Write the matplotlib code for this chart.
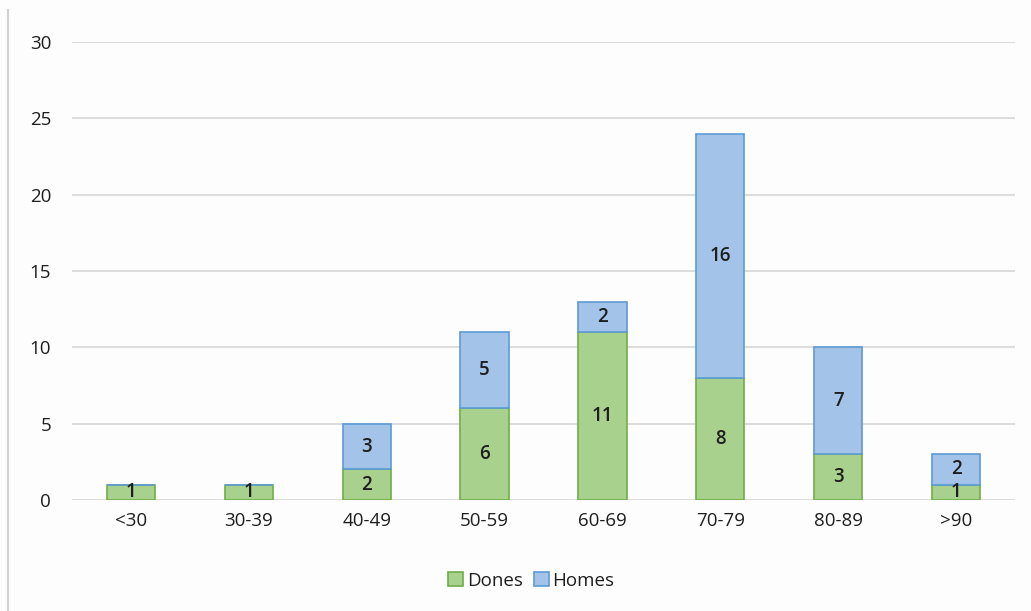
import matplotlib.pyplot as plt
import numpy as np

plt.rcParams['font.family'] = ['Open Sans', 'DejaVu Sans']

categories = ['<30', '30-39', '40-49', '50-59', '60-69', '70-79', '80-89', '>90']
dones = [1, 1, 2, 6, 11, 8, 3, 1]
homes = [0, 0, 3, 5, 2, 16, 7, 2]

green_fill, green_edge = '#a9d18e', '#70ad47'
blue_fill, blue_edge = '#a3c4e8', '#5b9bd5'
txt = '#1e1e1e'

fig = plt.figure(figsize=(10.31, 6.11), dpi=100, facecolor='#fdfdfd')
ax = fig.add_axes([0.0698, 0.1817, 0.9147, 0.7496])
ax.set_facecolor('#fdfdfd')

x = np.arange(len(categories))
w = 0.41
ax.bar(x, dones, w, color=green_fill, edgecolor=green_edge, linewidth=1.2,
       label='Dones', zorder=3)
ax.bar(x, homes, w, bottom=dones, color=blue_fill, edgecolor=blue_edge,
       linewidth=1.2, label='Homes', zorder=3)

for i in range(len(categories)):
    ax.text(x[i], dones[i] / 2, str(dones[i]), ha='center', va='center',
            fontsize=13.5, color=txt, fontweight='semibold', zorder=4)
    if homes[i] > 0:
        ax.text(x[i], dones[i] + homes[i] / 2, str(homes[i]), ha='center',
                va='center', fontsize=13.5, color=txt, fontweight='semibold',
                zorder=4)

ax.set_xlim(-0.5, len(categories) - 0.5)
ax.set_ylim(0, 30)
ax.set_yticks(range(0, 31, 5))
ax.set_xticks(x)
ax.set_xticklabels(categories)
ax.tick_params(axis='both', length=0, labelsize=13.5, colors=txt)
ax.tick_params(axis='y', pad=15)
ax.tick_params(axis='x', pad=9)
ax.grid(axis='y', color='#d9d9d9', linewidth=1.3, zorder=0)
for s in ax.spines.values():
    s.set_visible(False)

leg = ax.legend(loc='upper center', bbox_to_anchor=(0.487, -0.12), ncol=2,
                frameon=False, fontsize=13.5, handlelength=0.8, handleheight=0.8,
                handletextpad=0.2, columnspacing=0.6)
for t in leg.get_texts():
    t.set_color(txt)

# chart area border on the left
fig.add_artist(plt.Line2D([8 / 1031, 8 / 1031], [0, 1 - 10 / 611],
                          transform=fig.transFigure, color='#d0d0d0', linewidth=1.5))

fig.savefig('out.png', dpi=100, facecolor=fig.get_facecolor())
